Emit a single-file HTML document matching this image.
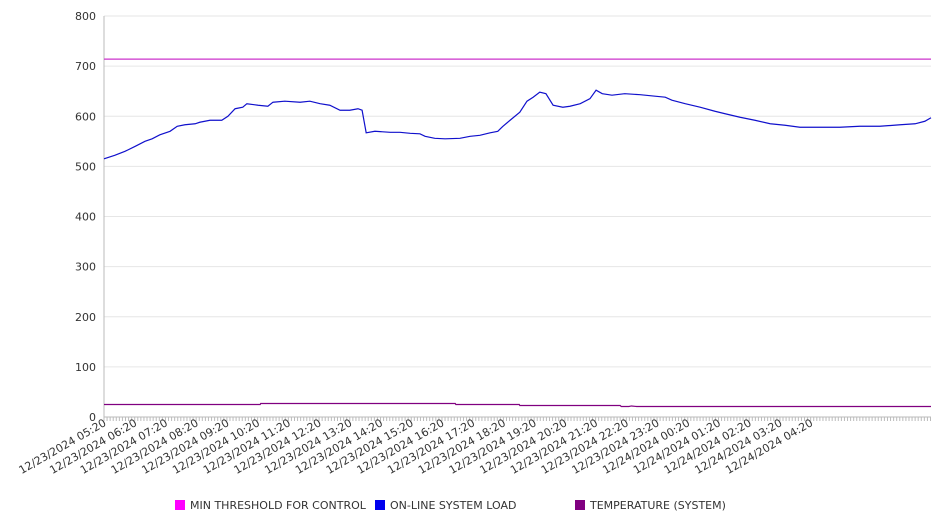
<!DOCTYPE html>
<html><head><meta charset="utf-8"><style>
body{margin:0;background:#fff;}
svg{display:block;font-family:"DejaVu Sans","Liberation Sans",sans-serif;}
</style></head><body>
<svg id="chart" width="946" height="526" viewBox="0 0 946 526"></svg>
<script>
const yTicks=[0,100,200,300,400,500,600,700,800];
const xLabels=["12/23/2024 05:20","12/23/2024 06:20","12/23/2024 07:20","12/23/2024 08:20","12/23/2024 09:20","12/23/2024 10:20","12/23/2024 11:20","12/23/2024 12:20","12/23/2024 13:20","12/23/2024 14:20","12/23/2024 15:20","12/23/2024 16:20","12/23/2024 17:20","12/23/2024 18:20","12/23/2024 19:20","12/23/2024 20:20","12/23/2024 21:20","12/23/2024 22:20","12/23/2024 23:20","12/24/2024 00:20","12/24/2024 01:20","12/24/2024 02:20","12/24/2024 03:20","12/24/2024 04:20"];
const thresholdValue=714;
// minutes since 12/23 05:20
const loadMinutes=[0,21,41,61,80,94,109,129,143,158,178,187,207,230,242,256,271,279,301,320,330,353,383,402,422,441,461,480,496,504,512,529,559,578,598,617,627,646,666,695,715,734,754,769,779,793,812,826,838,851,863,877,896,910,930,949,961,973,992,1017,1047,1076,1096,1109,1135,1164,1193,1213,1242,1271,1301,1330,1359,1398,1437,1476,1515,1555,1584,1603,1615];
const loadValues=[515,522,530,540,550,555,563,570,580,583,585,588,592,592,600,615,618,625,622,620,628,630,628,630,625,622,612,612,615,612,567,570,568,568,566,565,560,556,555,556,560,562,567,570,580,592,608,630,638,648,645,622,618,620,625,635,652,645,642,645,643,640,638,632,625,618,610,605,598,592,585,582,578,578,578,580,580,583,585,590,597];
const tempMinutes=[0,305,306,686,687,811,812,1008,1010,1025,1030,1040,1045,1615];
const tempValues=[25,25,27,27,25,25,23,23,21,21,22,21,21,21];
const X0=104,X1=931,Y0=417,Y1=16,MAXMIN=1615,YMAX=800;
const xs=m=>X0+(m/MAXMIN)*(X1-X0);
const ys=v=>Y0-(v/YMAX)*(Y0-Y1);
const svg=document.getElementById('chart');const NS='http://www.w3.org/2000/svg';
function mk(t,a,p){const e=document.createElementNS(NS,t);for(const k in a)e.setAttribute(k,a[k]);(p||svg).appendChild(e);return e;}
yTicks.forEach(v=>{
 const g=mk('line',{x1:X0,x2:X1,y1:ys(v),y2:ys(v),stroke:v===0?'#bbb':'#e6e6e6','stroke-width':1});
 
 
 const t=mk('text',{x:96,y:ys(v)+4,'text-anchor':'end','font-size':11,fill:'#333'});
 t.textContent=v;
 
 
});
const ax=mk('line',{x1:X0,x2:X0,y1:Y1,y2:Y0,stroke:'#bbb'});


for(let m=0;m<=MAXMIN;m+=6){const l=mk('line',{x1:xs(m),x2:xs(m),y1:Y0,y2:Y0+4,stroke:'#bbb'});
 
 }
xLabels.forEach((s,i)=>{const x=xs(i*60)+3;
 const t=mk('text',{x:x,y:Y0+8,'text-anchor':'end','font-size':11,fill:'#333',transform:`rotate(-30 ${x} ${Y0+8})`});
 t.textContent=s;
 
 });
const th=mk('line',{x1:X0,x2:X1,y1:ys(thresholdValue),y2:ys(thresholdValue),stroke:'#cc33cc','stroke-width':1.2});


const lp=mk('polyline',{points:loadMinutes.map((m,i)=>xs(m)+','+ys(loadValues[i])).join(' '),fill:'none',stroke:'#1010cc','stroke-width':1.2});


const tp=mk('polyline',{points:tempMinutes.map((m,i)=>xs(m)+','+ys(tempValues[i])).join(' '),fill:'none',stroke:'#800080','stroke-width':1.2});


const leg=[["MIN THRESHOLD FOR CONTROL","#ff00ff",175],["ON-LINE SYSTEM LOAD","#0000ee",375],["TEMPERATURE (SYSTEM)","#800080",575]];
leg.forEach(([n,c,x])=>{
 const r=mk('rect',{x:x,y:500,width:10,height:10,fill:c});
 
 
 const t=mk('text',{x:x+15,y:509,'font-size':11,fill:'#333'});t.textContent=n;
 
 
});
</script>
</body></html>
